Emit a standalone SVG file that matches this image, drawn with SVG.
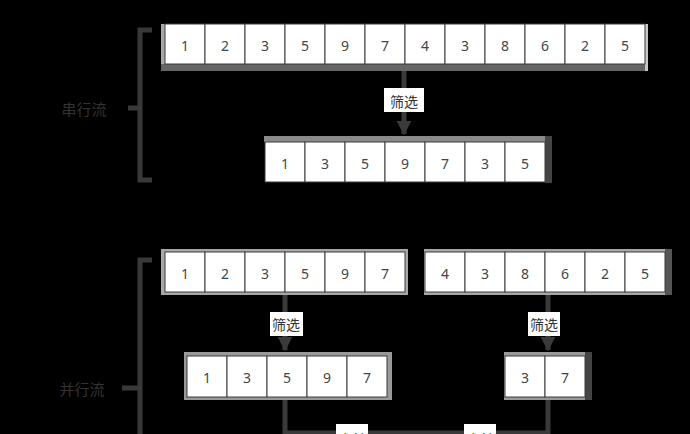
<svg xmlns="http://www.w3.org/2000/svg" width="690" height="434" viewBox="0 0 690 434">
<defs>
<style>
.cell{fill:#fff;stroke:#3a3a3a;stroke-width:1}
.num{font-family:"Noto Sans","Liberation Sans",sans-serif;font-size:14px;fill:#444;text-anchor:middle;dominant-baseline:central}
.lbl{font-family:"Noto Sans CJK SC","Noto Sans",sans-serif;font-size:14px;fill:#333;text-anchor:middle;dominant-baseline:central}
.side{font-family:"Noto Sans CJK SC","Noto Sans",sans-serif;font-size:15px;fill:#333;text-anchor:middle;dominant-baseline:central}
.lbox{fill:#fff}
.conn{fill:none;stroke:#3a3a3a;stroke-width:5}
.brace{fill:none;stroke:#383838;stroke-width:5}
</style>
<marker id="arr" viewBox="0 0 10 10" refX="9" refY="5" markerWidth="3" markerHeight="3" orient="auto">
<path d="M0,0 L10,5 L0,10 z" fill="#3a3a3a"/>
</marker>
</defs>
<rect x="0" y="0" width="690" height="434" fill="#000"/>

<g id="connectors">
<path class="conn" d="M404,71 V134" marker-end="url(#arr)"/>
<path class="conn" d="M285,295 V350" marker-end="url(#arr)"/>
<path class="conn" d="M548,295 V350" marker-end="url(#arr)"/>
<path class="conn" d="M285,400 V433 H548"/>
<path class="conn" d="M548,400 V436"/>
<rect class="lbox" x="384" y="88" width="40" height="24"/>
<text class="lbl" x="404" y="101">筛选</text>
<rect class="lbox" x="270" y="312" width="33" height="24"/>
<text class="lbl" x="286" y="324">筛选</text>
<rect class="lbox" x="528" y="312" width="32" height="24"/>
<text class="lbl" x="544" y="324">筛选</text>
<rect class="lbox" x="336" y="424" width="32" height="24"/>
<text class="lbl" x="352" y="439">合并</text>
<rect class="lbox" x="464" y="424" width="32" height="24"/>
<text class="lbl" x="480" y="439">合并</text>
</g>

<g id="brace-1">
<path class="brace" d="M152,30 H140 V180 H152 M140,108 H128"/>
<text class="side" x="84" y="108">串行流</text>
</g>
<g id="brace-2">
<path class="brace" d="M152,260 H140 V440 M140,388 H122"/>
<text class="side" x="82" y="388">并行流</text>
</g>

<g id="row-all">
<rect x="161" y="24" width="4" height="47" fill="#a8a8a8"/>
<rect x="161" y="64" width="487" height="7" fill="#666"/>
<rect x="645" y="24" width="3" height="47" fill="#c8c8c8"/>
<rect class="cell" x="165" y="24" width="40" height="40"/><text class="num" x="185" y="45">1</text>
<rect class="cell" x="205" y="24" width="40" height="40"/><text class="num" x="225" y="45">2</text>
<rect class="cell" x="245" y="24" width="40" height="40"/><text class="num" x="265" y="45">3</text>
<rect class="cell" x="285" y="24" width="40" height="40"/><text class="num" x="305" y="45">5</text>
<rect class="cell" x="325" y="24" width="40" height="40"/><text class="num" x="345" y="45">9</text>
<rect class="cell" x="365" y="24" width="40" height="40"/><text class="num" x="385" y="45">7</text>
<rect class="cell" x="405" y="24" width="40" height="40"/><text class="num" x="425" y="45">4</text>
<rect class="cell" x="445" y="24" width="40" height="40"/><text class="num" x="465" y="45">3</text>
<rect class="cell" x="485" y="24" width="40" height="40"/><text class="num" x="505" y="45">8</text>
<rect class="cell" x="525" y="24" width="40" height="40"/><text class="num" x="545" y="45">6</text>
<rect class="cell" x="565" y="24" width="40" height="40"/><text class="num" x="585" y="45">2</text>
<rect class="cell" x="605" y="24" width="40" height="40"/><text class="num" x="625" y="45">5</text>
</g>

<g id="row-filtered">
<rect x="264" y="136" width="281" height="6" fill="#8a8a8a"/>
<rect x="545" y="136" width="7" height="47" fill="#444"/>
<rect class="cell" x="265" y="142" width="40" height="40"/><text class="num" x="285" y="163">1</text>
<rect class="cell" x="305" y="142" width="40" height="40"/><text class="num" x="325" y="163">3</text>
<rect class="cell" x="345" y="142" width="40" height="40"/><text class="num" x="365" y="163">5</text>
<rect class="cell" x="385" y="142" width="40" height="40"/><text class="num" x="405" y="163">9</text>
<rect class="cell" x="425" y="142" width="40" height="40"/><text class="num" x="445" y="163">7</text>
<rect class="cell" x="465" y="142" width="40" height="40"/><text class="num" x="485" y="163">3</text>
<rect class="cell" x="505" y="142" width="40" height="40"/><text class="num" x="525" y="163">5</text>
</g>

<g id="row-left">
<rect x="161" y="249" width="247" height="46" fill="#a8a8a8"/>
<rect class="cell" x="165" y="252" width="40" height="40"/><text class="num" x="185" y="273">1</text>
<rect class="cell" x="205" y="252" width="40" height="40"/><text class="num" x="225" y="273">2</text>
<rect class="cell" x="245" y="252" width="40" height="40"/><text class="num" x="265" y="273">3</text>
<rect class="cell" x="285" y="252" width="40" height="40"/><text class="num" x="305" y="273">5</text>
<rect class="cell" x="325" y="252" width="40" height="40"/><text class="num" x="345" y="273">9</text>
<rect class="cell" x="365" y="252" width="40" height="40"/><text class="num" x="385" y="273">7</text>
</g>

<g id="row-right">
<rect x="424" y="249" width="242" height="46" fill="#a8a8a8"/>
<rect x="665" y="249" width="7" height="46" fill="#555"/>
<rect class="cell" x="425" y="252" width="40" height="40"/><text class="num" x="445" y="273">4</text>
<rect class="cell" x="465" y="252" width="40" height="40"/><text class="num" x="485" y="273">3</text>
<rect class="cell" x="505" y="252" width="40" height="40"/><text class="num" x="525" y="273">8</text>
<rect class="cell" x="545" y="252" width="40" height="40"/><text class="num" x="565" y="273">6</text>
<rect class="cell" x="585" y="252" width="40" height="40"/><text class="num" x="605" y="273">2</text>
<rect class="cell" x="625" y="252" width="40" height="40"/><text class="num" x="645" y="273">5</text>
</g>

<g id="row-left-filtered">
<rect x="184" y="352" width="208" height="48" fill="#999"/>
<rect class="cell" x="187" y="356" width="40" height="41"/><text class="num" x="207" y="377">1</text>
<rect class="cell" x="227" y="356" width="40" height="41"/><text class="num" x="247" y="377">3</text>
<rect class="cell" x="267" y="356" width="40" height="41"/><text class="num" x="287" y="377">5</text>
<rect class="cell" x="307" y="356" width="40" height="41"/><text class="num" x="327" y="377">9</text>
<rect class="cell" x="347" y="356" width="40" height="41"/><text class="num" x="367" y="377">7</text>
</g>

<g id="row-right-filtered">
<rect x="504" y="352" width="81" height="48" fill="#999"/>
<rect x="585" y="352" width="7" height="48" fill="#444"/>
<rect class="cell" x="505" y="356" width="40" height="41"/><text class="num" x="525" y="377">3</text>
<rect class="cell" x="545" y="356" width="40" height="41"/><text class="num" x="565" y="377">7</text>
</g>
</svg>
